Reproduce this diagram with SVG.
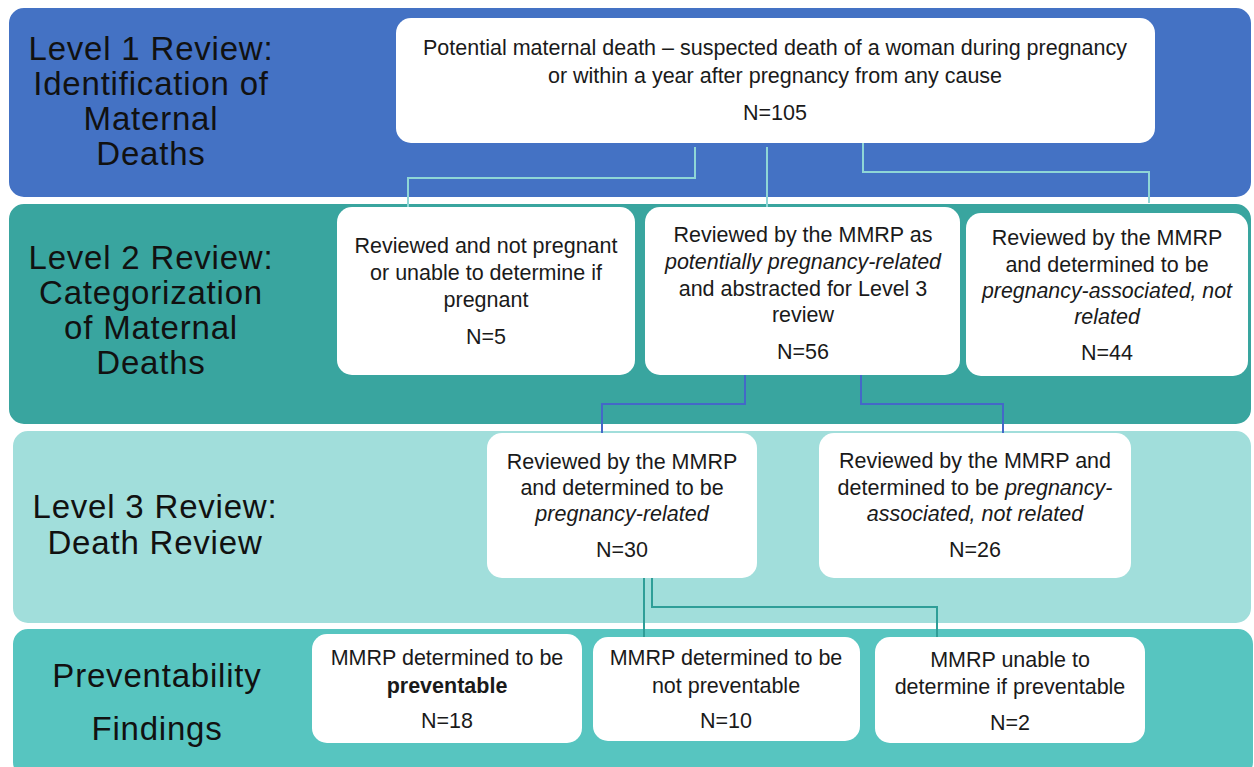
<svg xmlns="http://www.w3.org/2000/svg" width="1254" height="767" viewBox="0 0 1254 767">
<style>
.band{stroke:#ffffff;stroke-width:2}
.box{fill:#ffffff}
.lbl{font-family:"Liberation Sans",Arial,sans-serif;font-size:33px;letter-spacing:0.8px;fill:#111;text-anchor:middle}
.t{font-family:"Liberation Sans",Arial,sans-serif;font-size:21.5px;fill:#1a1a1a;text-anchor:middle}
.i{font-style:italic}
.b{font-weight:bold}
.c1{fill:none;stroke:#8fd6d6;stroke-width:2}
.c2{fill:none;stroke:#4468c8;stroke-width:2}
.c3{fill:none;stroke:#2e9e98;stroke-width:2}
</style>
<rect width="1254" height="767" fill="#ffffff"/>
<g id="band1"><rect class="band" x="8" y="7" width="1244" height="191" rx="16" fill="#4472C4"/>
<text class="lbl" x="151" y="60">Level 1 Review:</text>
<text class="lbl" x="151" y="95">Identification of</text>
<text class="lbl" x="151" y="130">Maternal</text>
<text class="lbl" x="151" y="165">Deaths</text></g>
<g id="band2"><rect class="band" x="8" y="203" width="1244" height="222" rx="16" fill="#39A59F"/>
<text class="lbl" x="151" y="269">Level 2 Review:</text>
<text class="lbl" x="151" y="304">Categorization</text>
<text class="lbl" x="151" y="339">of Maternal</text>
<text class="lbl" x="151" y="374">Deaths</text></g>
<g id="band3"><rect class="band" x="12" y="430" width="1240" height="194" rx="16" fill="#A1DEDB"/>
<text class="lbl" x="155" y="518">Level 3 Review:</text>
<text class="lbl" x="155" y="554">Death Review</text></g>
<g id="band4"><rect class="band" x="12" y="628" width="1242" height="150" rx="16" fill="#57C5C0"/>
<text class="lbl" x="157" y="687">Preventability</text>
<text class="lbl" x="157" y="740">Findings</text></g>

<g id="connectors">
<path class="c1" d="M695 147V178H408V207"/>
<path class="c1" d="M767 147V207"/>
<path class="c1" d="M863 143V172H1149V203"/>
<path class="c2" d="M745 375V404H602V433"/>
<path class="c2" d="M861 375V404H1003V433"/>
<path class="c3" d="M644 578V637"/>
<path class="c3" d="M652 578V607H937V637"/>
</g>

<g id="n105"><rect class="box" x="396" y="18" width="759" height="125" rx="15"/>
<text class="t" x="775" y="55">Potential maternal death – suspected death of a woman during pregnancy</text>
<text class="t" x="775" y="83">or within a year after pregnancy from any cause</text>
<text class="t" x="775" y="120">N=105</text></g>

<g id="n5"><rect class="box" x="337" y="207" width="298" height="168" rx="15"/>
<text class="t" x="486" y="253">Reviewed and not pregnant</text>
<text class="t" x="486" y="280">or unable to determine if</text>
<text class="t" x="486" y="307">pregnant</text>
<text class="t" x="486" y="344">N=5</text></g>

<g id="n56"><rect class="box" x="645" y="207" width="315" height="168" rx="15"/>
<text class="t" x="803" y="242">Reviewed by the MMRP as</text>
<text class="t i" x="803" y="269">potentially pregnancy-related</text>
<text class="t" x="803" y="296">and abstracted for Level 3</text>
<text class="t" x="803" y="322">review</text>
<text class="t" x="803" y="359">N=56</text></g>

<g id="n44"><rect class="box" x="966" y="213" width="282" height="163" rx="15"/>
<text class="t" x="1107" y="245">Reviewed by the MMRP</text>
<text class="t" x="1107" y="272">and determined to be</text>
<text class="t i" x="1107" y="298" textLength="250" lengthAdjust="spacingAndGlyphs">pregnancy-associated, not</text>
<text class="t i" x="1107" y="324">related</text>
<text class="t" x="1107" y="360">N=44</text></g>

<g id="n30"><rect class="box" x="487" y="433" width="270" height="145" rx="15"/>
<text class="t" x="622" y="469">Reviewed by the MMRP</text>
<text class="t" x="622" y="495">and determined to be</text>
<text class="t i" x="622" y="521">pregnancy-related</text>
<text class="t" x="622" y="557">N=30</text></g>

<g id="n26"><rect class="box" x="819" y="433" width="312" height="145" rx="15"/>
<text class="t" x="975" y="468">Reviewed by the MMRP and</text>
<text class="t" x="975" y="495">determined to be <tspan class="i">pregnancy-</tspan></text>
<text class="t i" x="975" y="521">associated, not related</text>
<text class="t" x="975" y="557">N=26</text></g>

<g id="n18"><rect class="box" x="312" y="634" width="270" height="109" rx="15"/>
<text class="t" x="447" y="665">MMRP determined to be</text>
<text class="t b" x="447" y="693">preventable</text>
<text class="t" x="447" y="728">N=18</text></g>

<g id="n10"><rect class="box" x="593" y="637" width="267" height="104" rx="15"/>
<text class="t" x="726" y="665">MMRP determined to be</text>
<text class="t" x="726" y="693">not preventable</text>
<text class="t" x="726" y="728">N=10</text></g>

<g id="n2"><rect class="box" x="875" y="637" width="270" height="106" rx="15"/>
<text class="t" x="1010" y="667">MMRP unable to</text>
<text class="t" x="1010" y="694">determine if preventable</text>
<text class="t" x="1010" y="730">N=2</text></g>
</svg>
